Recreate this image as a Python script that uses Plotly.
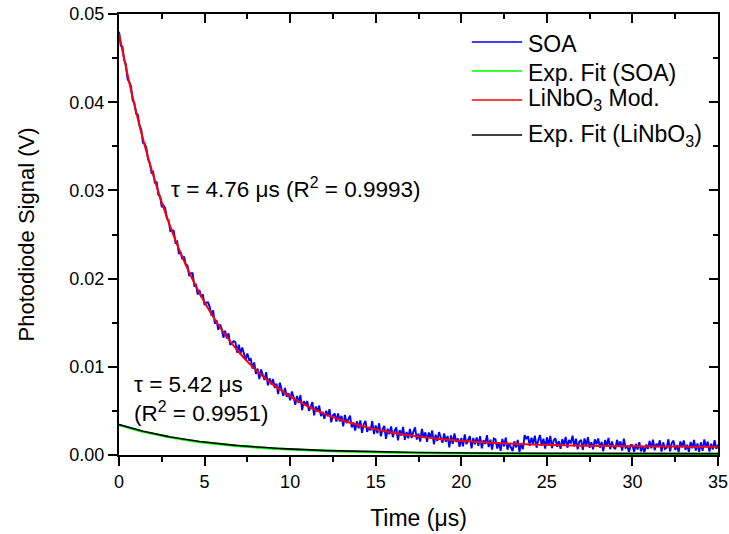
import numpy as np
import plotly.graph_objects as go

# ---- measured traces (values in mV) ----
# SOA photodiode trace, sampled every 0.1 us from 0 to 35 us
soa_mv = [
    48.0, 46.4, 46.3, 44.8, 44.3, 42.6, 42.3, 41.8, 40.2, 39.9,
    38.7, 38.6, 37.3, 36.9, 35.4, 35.3, 34.8, 33.5, 33.1, 32.0,
    32.1, 30.8, 31.0, 29.5, 29.3, 28.1, 28.3, 28.0, 26.8, 26.6,
    25.4, 25.5, 25.4, 24.1, 24.2, 22.8, 23.0, 22.2, 22.5, 21.6,
    21.5, 20.3, 20.6, 20.6, 19.2, 19.3, 18.2, 18.7, 17.9, 18.2,
    17.0, 17.3, 17.3, 16.8, 15.8, 16.4, 14.9, 15.3, 14.2, 14.8,
    14.3, 13.3, 14.1, 13.2, 13.8, 12.5, 12.7, 12.9, 12.8, 11.6,
    12.5, 11.5, 12.2, 11.5, 10.8, 11.5, 10.8, 10.9, 9.8, 10.5,
    9.2, 9.8, 8.6, 9.7, 9.1, 8.5, 9.4, 7.9, 8.7, 8.0,
    8.6, 7.6, 8.1, 6.9, 8.2, 7.4, 6.7, 7.6, 6.6, 7.0,
    6.2, 7.2, 6.6, 5.7, 6.7, 5.9, 6.8, 5.1, 6.1, 5.7,
    6.1, 5.0, 5.6, 6.0, 4.5, 5.5, 4.9, 5.6, 4.4, 4.9,
    4.1, 5.0, 4.4, 5.2, 3.7, 4.5, 4.7, 3.8, 4.7, 3.8,
    4.44, 3.25, 4.55, 3.61, 4.03, 4.45, 3.12, 3.70, 2.76, 3.83,
    3.04, 3.93, 2.52, 3.49, 3.86, 2.62, 3.18, 2.79, 3.85, 2.36,
    3.34, 2.45, 3.60, 2.11, 2.92, 3.31, 1.82, 2.98, 2.35, 3.24,
    2.02, 2.75, 3.14, 1.67, 2.82, 2.19, 3.18, 1.71, 2.61, 1.90,
    2.97, 1.92, 2.65, 3.14, 1.75, 2.41, 1.53, 2.96, 1.99, 2.57,
    1.48, 2.56, 1.94, 2.77, 1.22, 2.30, 1.60, 2.60, 1.99, 1.38,
    2.45, 1.50, 2.16, 0.87, 2.21, 1.26, 2.44, 1.48, 1.89, 0.94,
    1.94, 0.99, 2.34, 1.22, 1.71, 2.13, 0.76, 1.93, 1.23, 1.99,
    1.05, 2.14, 0.76, 1.69, 1.25, 2.26, 0.89, 1.73, 0.62, 1.88,
    1.77, 0.74, 1.41, 0.47, 1.83, 0.97, 1.98, 0.61, 1.29, 0.85,
    0.44, 1.55, 0.86, 1.70, 0.35, 1.35, 0.66, 2.24, 1.81, 2.14,
    1.03, 1.95, 1.27, 2.20, 0.83, 1.68, 2.27, 1.07, 1.84, 0.72,
    2.01, 1.12, 2.16, 0.79, 1.67, 1.90, 0.94, 1.57, 0.69, 1.80,
    1.16, 2.04, 0.83, 1.71, 1.31, 2.18, 0.98, 1.86, 0.65, 1.53,
    1.71, 0.59, 1.87, 1.06, 2.02, 0.82, 1.46, 0.65, 1.77, 1.21,
    1.87, 0.83, 1.47, 0.43, 1.70, 1.06, 1.94, 0.66, 1.54, 0.89,
    0.68, 1.72, 1.00, 1.55, 0.51, 1.86, 0.82, 0.97, 0.35, 1.13,
    1.12, 0.35, 1.26, 0.62, 1.46, 0.41, 0.97, 0.30, 1.17, 0.68,
    1.60, 0.77, 1.74, 0.55, 1.29, 0.92, 1.66, 0.39, 1.44, 0.69,
    0.82, 1.78, 0.42, 1.38, 1.62, 0.58, 1.14, 0.34, 1.53, 0.89,
    1.64, 0.60, 1.16, 0.35, 1.48, 0.76, 1.71, 0.51, 1.31, 0.35,
    1.44, 0.48, 1.76, 0.88, 1.52, 0.38, 1.27, 0.63, 1.67, 0.71,
    1.15,
]

# LiNbO3 modulator trace, sampled every 0.5 us from 0 to 35 us
linbo3_mv = [
    47.80, 43.12, 38.91, 35.12, 31.71, 28.64, 25.87, 23.38, 21.14, 19.12,
    17.31, 15.67, 14.20, 12.87, 11.68, 10.60, 9.64, 8.77, 7.98, 7.28,
    6.64, 6.07, 5.55, 5.09, 4.67, 4.30, 3.96, 3.65, 3.38, 3.13,
    2.91, 2.71, 2.53, 2.36, 2.22, 2.09, 1.97, 1.86, 1.77, 1.68,
    1.60, 1.53, 1.47, 1.41, 1.36, 1.32, 1.27, 1.24, 1.20, 1.17,
    1.15, 1.12, 1.10, 1.08, 1.06, 1.05, 1.03, 1.02, 1.01, 0.99,
    0.99, 0.98, 0.97, 0.96, 0.96, 0.95, 0.95, 0.94, 0.94, 0.93,
    0.93,
]

# exponential fits: y = offset + amp * exp(-t / tau)   (mV, us)
fit_tau_us = 5.42
fit_soa_amp_mv, fit_soa_off_mv = 3.30, 0.10
fit_lin_amp_mv, fit_lin_off_mv = 3.30, 0.15

t_soa = np.round(np.arange(len(soa_mv)) * 0.1, 2)
t_lin = np.round(np.arange(len(linbo3_mv)) * 0.5, 2)
t_fit = np.linspace(0, 35, 351)

soa_v = np.array(soa_mv) * 1e-3
lin_v = np.array(linbo3_mv) * 1e-3
fit_soa_v = (fit_soa_off_mv + fit_soa_amp_mv * np.exp(-t_fit / fit_tau_us)) * 1e-3
fit_lin_v = (fit_lin_off_mv + fit_lin_amp_mv * np.exp(-t_fit / fit_tau_us)) * 1e-3

FONT = "Liberation Sans, Arial, sans-serif"
BLUE, GREEN, RED, BLACK = "#0000FF", "#00FF00", "#FF0000", "#000000"

fig = go.Figure()
fig.add_trace(go.Scatter(x=t_soa, y=soa_v, mode="lines", name="SOA",
                         line=dict(color=BLUE, width=1.9)))
fig.add_trace(go.Scatter(x=t_fit, y=fit_soa_v, mode="lines", name="Exp. Fit (SOA)",
                         line=dict(color=GREEN, width=2.5)))
fig.add_trace(go.Scatter(x=t_lin, y=lin_v, mode="lines", name="LiNbO<sub>3</sub> Mod.",
                         line=dict(color=RED, width=2, shape="spline")))
fig.add_trace(go.Scatter(x=t_fit, y=fit_lin_v, mode="lines", name="Exp. Fit (LiNbO<sub>3</sub>)",
                         line=dict(color=BLACK, width=1.6)))
# carrier for the mirrored top/right frame axes
fig.add_trace(go.Scatter(x=[None], y=[None], xaxis="x2", yaxis="y2",
                         showlegend=False, hoverinfo="skip"))

# legend drawn in the upper right of the plot area
legend_rows = [
    ("SOA", BLUE, 0.9365, 0.9320),
    ("Exp. Fit (SOA)", GREEN, 0.8707, 0.8662),
    ("LiNbO<sub>3</sub> Mod.", RED, 0.8050, 0.8050),
    ("Exp. Fit (LiNbO<sub>3</sub>)", BLACK, 0.7256, 0.7256),
]
annotations = []
shapes = []
for label, color, y_line, y_text in legend_rows:
    shapes.append(dict(type="line", xref="paper", yref="paper",
                       x0=0.589, x1=0.673, y0=y_line, y1=y_line,
                       line=dict(color=color, width=1.6)))
    annotations.append(dict(xref="paper", yref="paper", x=0.679, y=y_text,
                            xanchor="left", yanchor="middle", text=label,
                            showarrow=False, font=dict(family=FONT, size=23, color="black")))

annotations.append(dict(x=2.95, y=0.0303, xref="x", yref="y", xanchor="left", yanchor="middle",
                        text="τ = 4.76 μs (R<sup>2</sup> = 0.9993)", showarrow=False,
                        font=dict(family=FONT, size=22.5, color="black")))
annotations.append(dict(x=0.78, y=0.0064, xref="x", yref="y", xanchor="left", yanchor="middle",
                        align="left", text="τ = 5.42 μs<br>(R<sup>2</sup> = 0.9951)",
                        showarrow=False, font=dict(family=FONT, size=22.5, color="black")))

axis_common = dict(showline=True, linecolor="black", linewidth=2, showgrid=False,
                   zeroline=False, tickcolor="black", tickwidth=1.5, ticklen=9,
                   automargin=False)

fig.update_layout(
    width=729, height=534,
    margin=dict(l=119, r=11, t=14, b=79),
    paper_bgcolor="white", plot_bgcolor="white",
    showlegend=False,
    font=dict(family=FONT, size=18, color="black"),
    xaxis=dict(range=[0, 35], dtick=5, tick0=0, ticks="outside",
               minor=dict(ticks="outside", dtick=2.5, ticklen=5, tickcolor="black", tickwidth=1.5),
               title=dict(text="Time (μs)", font=dict(size=23), standoff=19),
               tickfont=dict(size=18), **axis_common),
    yaxis=dict(range=[0, 0.05], dtick=0.01, tick0=0, tickformat=".2f", ticks="outside",
               minor=dict(ticks="outside", dtick=0.005, ticklen=5, tickcolor="black", tickwidth=1.5),
               title=dict(text="Photodiode Signal (V)", font=dict(size=22), standoff=29),
               tickfont=dict(size=18), **axis_common),
    xaxis2=dict(range=[0, 35], overlaying="x", side="top", dtick=5, tick0=0, ticks="inside",
                showticklabels=False,
                minor=dict(ticks="inside", dtick=2.5, ticklen=5, tickcolor="black", tickwidth=1.5),
                **axis_common),
    yaxis2=dict(range=[0, 0.05], overlaying="y", side="right", dtick=0.01, tick0=0, ticks="inside",
                showticklabels=False,
                minor=dict(ticks="inside", dtick=0.005, ticklen=5, tickcolor="black", tickwidth=1.5),
                **axis_common),
    annotations=annotations,
    shapes=shapes,
)

fig.write_html("out.html")
